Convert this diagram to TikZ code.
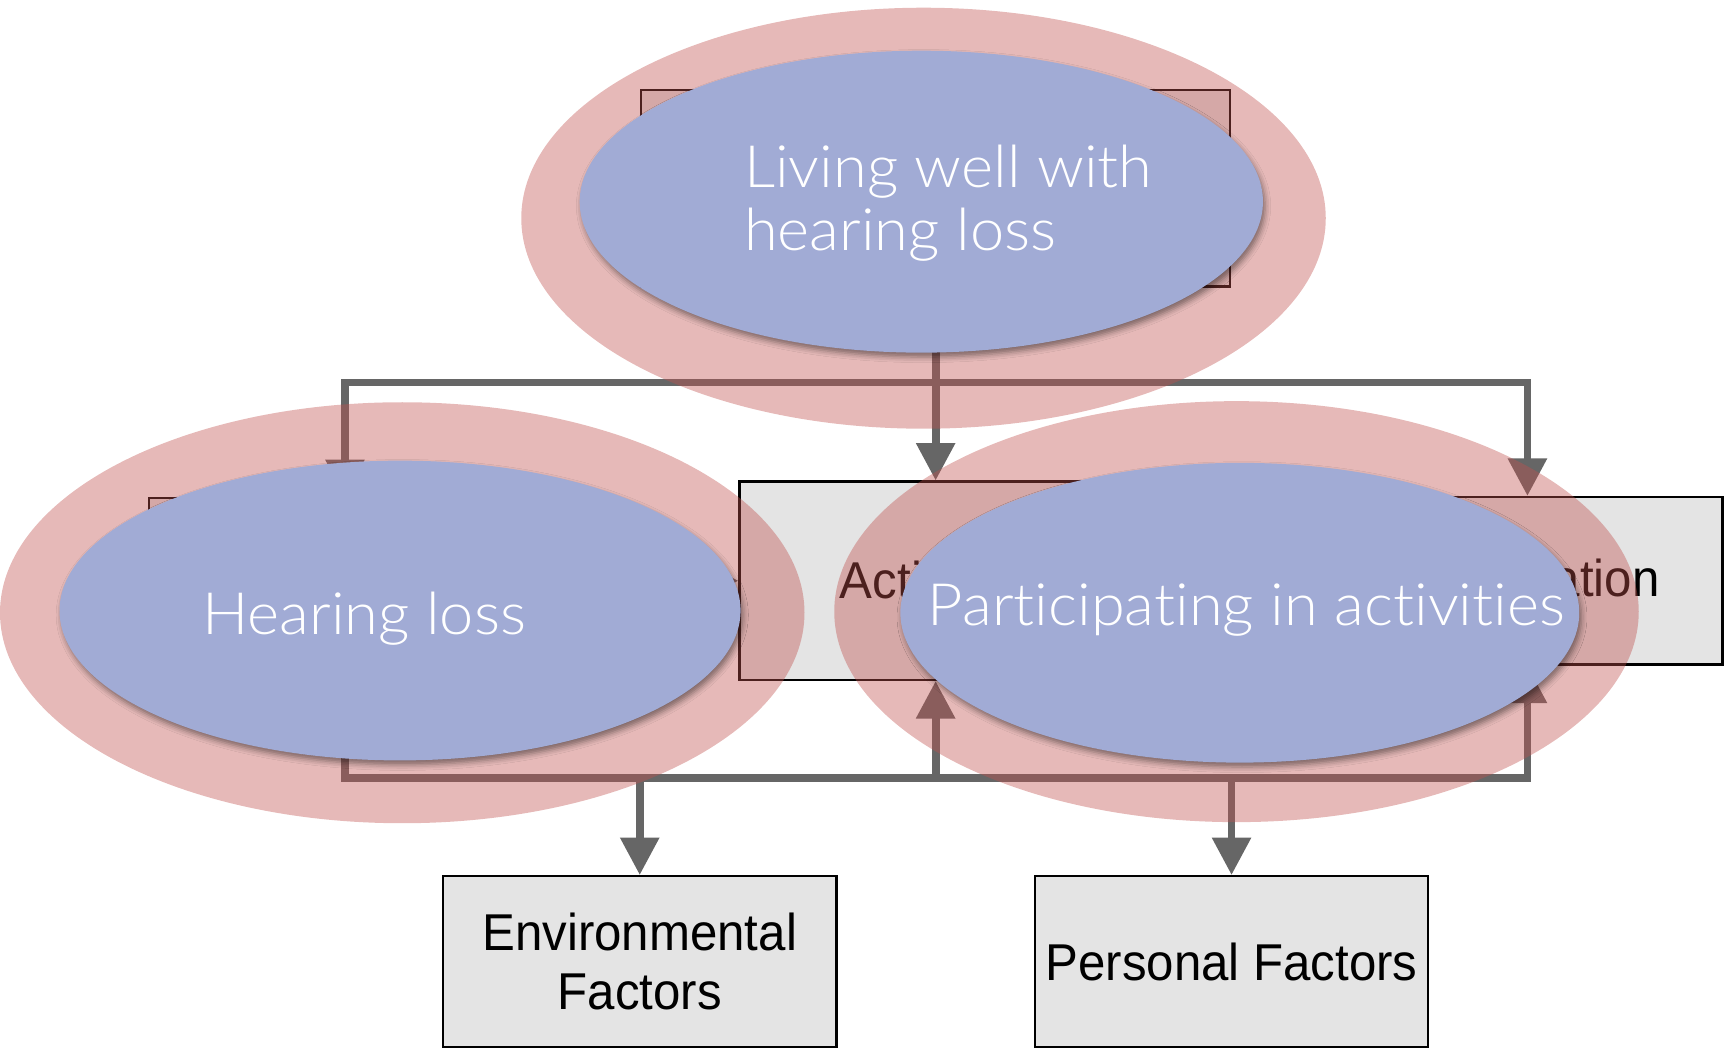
\documentclass[tikz,border=0pt]{standalone}
\usepackage{fontspec}
\setmainfont{Liberation Sans}
\newfontfamily\boxfont{Liberation Sans}[FakeStretch=0.95]
\newfontfamily\ovalfont{Lato Light}[Ligatures=NoCommon, FakeStretch=1.05]
\usetikzlibrary{arrows.meta,shapes.geometric,shadows.blur}
\definecolor{ovalred}{HTML}{C0504D}
\definecolor{ovalblue}{HTML}{A1ABD5}
\definecolor{boxgray}{HTML}{E4E4E4}
\definecolor{linkgray}{HTML}{666666}

\begin{document}
\begin{tikzpicture}[x=1pt,y=-1pt,
  icfbox/.style={draw=black, line width=2pt, fill=boxgray, inner sep=0pt,
    font=\boxfont\fontsize{47}{53}\selectfont, align=center},
  boxlabel/.style={inner sep=0pt, font=\boxfont\fontsize{47}{53}\selectfont},
  link/.style={draw=linkgray, line width=7pt},
  head/.style={-{Triangle[width=34pt,length=34pt]}},
  halo/.style={ellipse, fill=ovalred, fill opacity=0.4, inner sep=0pt,
    minimum width=730pt, minimum height=382pt},
  core/.style={ellipse, fill=ovalblue, inner sep=0pt,
    blur shadow={shadow xshift=2pt, shadow yshift=-4pt,
      shadow blur radius=5pt, shadow opacity=45}},
  ovaltext/.style={text=white, inner sep=0pt,
    font=\ovalfont\fontsize{53}{58}\selectfont},
]
\useasboundingbox (0,0) rectangle (1568,955);

% ICF boxes
\node[icfbox, minimum width=534pt, minimum height=178pt] (health) at (849,171) {};
\node[icfbox, minimum width=356pt, minimum height=150pt] (body) at (313,527) {};
\node[icfbox, minimum width=356pt, minimum height=180pt] (act) at (849,527) {};
\node[icfbox, minimum width=354pt, minimum height=152pt] (part) at (1386,527) {};
\node[icfbox, minimum width=357pt, minimum height=155pt] (env) at (580.5,872.5)
  {Environmental\\Factors};
\node[icfbox, minimum width=357pt, minimum height=155pt] (pers) at (1117.5,872.5)
  {Personal Factors};
\node[boxlabel, anchor=base west] (actlabel) at (762,543) {Activities};
\node[boxlabel, anchor=base east] (partlabel) at (1506,541) {Participation};

% connectors
\coordinate (tj) at (849,347);
\coordinate (bj) at (849,706);
\draw[link,head] (health.south) -- (act.north);
\draw[link,head] (tj) -| (body.north);
\draw[link,head] (tj) -| (part.north);
\draw[link,head] (body.east) -- (act.west);
\draw[link] (body.south) |- (bj);
\draw[link,head] (bj) -- (act.south);
\draw[link,head] (bj) -| (part.south);
\draw[link,head] (bj) -| (env.north);
\draw[link,head] (bj) -| (pers.north);

% ovals
\node[halo] (tophalo) at (838,198) {};
\node[core, minimum width=620pt, minimum height=274pt] (topcore) at (836,183) {};
\node[halo] (lefthalo) at (365,556) {};
\node[core, minimum width=618pt, minimum height=272pt] (leftcore) at (363,554) {};
\node[halo] (righthalo) at (1122,555) {};
\node[core, minimum width=616pt, minimum height=272pt] (rightcore) at (1125,556) {};

% oval texts
\node[ovaltext, anchor=base west] (topline1) at (675,170) {Living well with};
\node[ovaltext, anchor=base west] (topline2) at (675,227) {hearing loss};
\node[ovaltext, anchor=base] (lefttext) at (330.5,576) {Hearing loss};
\node[ovaltext, anchor=base] (righttext) at (1131,568) {Participating in activities};
\end{tikzpicture}
\end{document}
